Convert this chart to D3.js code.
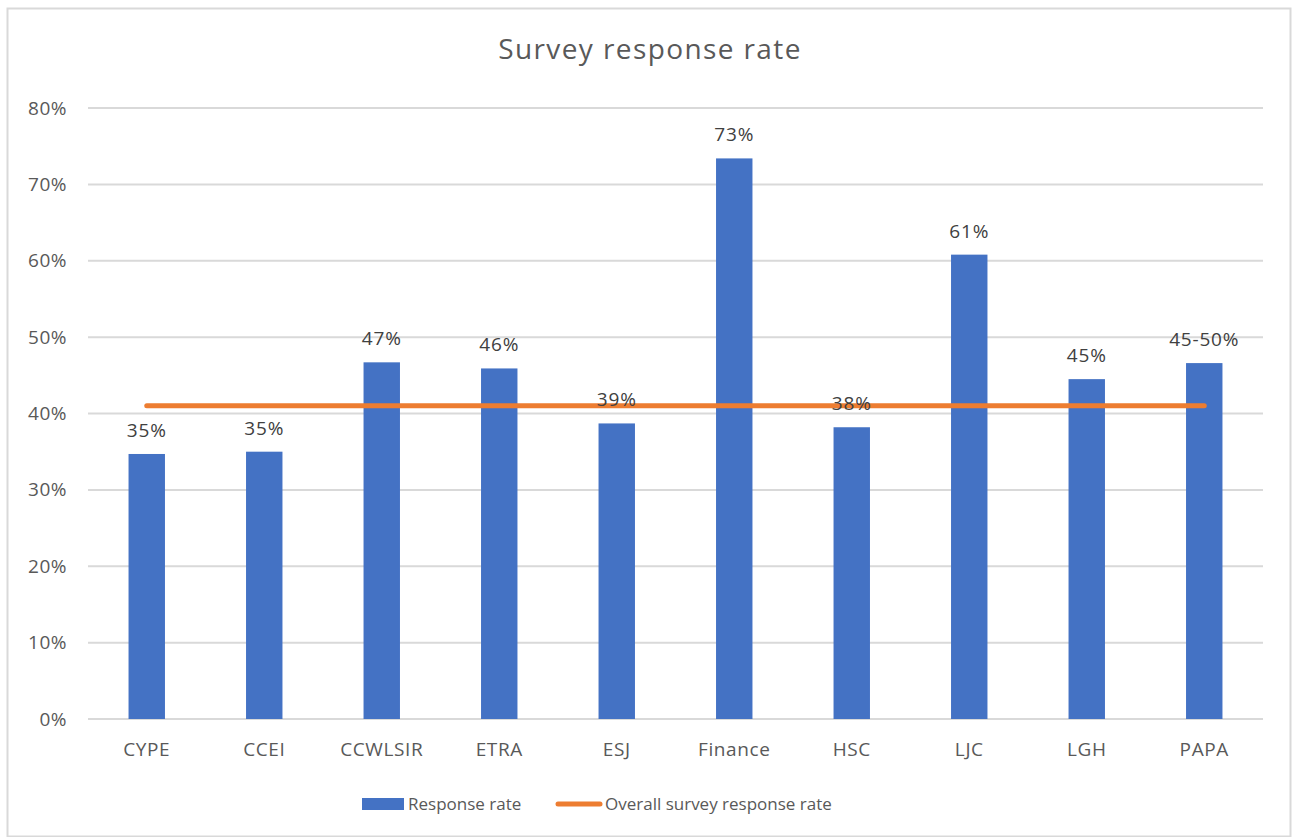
<!DOCTYPE html>
<html>
<head>
<meta charset="utf-8">
<script src="https://cdn.jsdelivr.net/npm/d3@7"></script>
<style>
  html, body { margin: 0; padding: 0; background: #fff; }
  svg { display: block; }
  text { font-family: "Open Sans", "Noto Sans", sans-serif; fill: #595959; }
</style>
</head>
<body>
<svg id="chart" width="1292" height="837"></svg>
<script>
const categories = ["CYPE", "CCEI", "CCWLSIR", "ETRA", "ESJ", "Finance", "HSC", "LJC", "LGH", "PAPA"];
const responseRate = [34.7, 35.0, 46.7, 45.9, 38.7, 73.4, 38.2, 60.8, 44.5, 46.6];
const valueLabels = ["35%", "35%", "47%", "46%", "39%", "73%", "38%", "61%", "45%", "45-50%"];
const overallRate = [41, 41, 41, 41, 41, 41, 41, 41, 41, 41];
const yTicks = [0, 10, 20, 30, 40, 50, 60, 70, 80];
const seriesNames = ["Response rate", "Overall survey response rate"];
const title = "Survey response rate";

const svg = d3.select("#chart");
const W = 1292, H = 837;
const plot = { left: 88, right: 1263, top: 108, bottom: 719 };

// chart border
svg.append("rect")
  .attr("x", 7.5).attr("y", 8.5).attr("width", W - 9).attr("height", H - 9)
  .attr("fill", "#fff").attr("stroke", "#d9d9d9").attr("stroke-width", 2);

const x = d3.scaleBand().domain(categories).range([plot.left, plot.right]).padding(0);
const y = d3.scaleLinear().domain([0, 80]).range([plot.bottom, plot.top]);
const barW = x.bandwidth() * 0.31;

// title
svg.append("text")
  .attr("x", 650).attr("y", 59)
  .attr("text-anchor", "middle")
  .style("font-size", "28px")
  .style("letter-spacing", "1.4px")
  .text(title);

// y axis labels
const yAxis = d3.axisLeft(y).tickValues(yTicks).tickFormat(d => d + "%").tickSize(0).tickPadding(21);
const gy = svg.append("g").attr("transform", `translate(${plot.left},0)`).call(yAxis);
gy.select(".domain").remove();
gy.selectAll("text").style("font-size", "19px").style("letter-spacing", "0.5px")
  .style("fill", "#595959").attr("font-family", null);

// gridlines
svg.append("g").selectAll("line").data(yTicks).join("line")
  .attr("x1", plot.left).attr("x2", plot.right)
  .attr("y1", d => y(d)).attr("y2", d => y(d))
  .attr("stroke", "#d9d9d9").attr("stroke-width", 2);

// x axis labels
const xAxis = d3.axisBottom(x).tickSize(0).tickPadding(24);
const gx = svg.append("g").attr("transform", `translate(0,${plot.bottom})`).call(xAxis);
gx.select(".domain").remove();
gx.selectAll("text").style("font-size", "19px").style("letter-spacing", "0.6px")
  .style("fill", "#595959").attr("font-family", null);

// bars
svg.append("g").selectAll("rect").data(categories).join("rect")
  .attr("x", (d) => x(d) + x.bandwidth() / 2 - barW / 2)
  .attr("width", barW)
  .attr("y", (d, i) => y(responseRate[i]))
  .attr("height", (d, i) => y(0) - y(responseRate[i]))
  .attr("fill", "#4472c4");

// overall line
const line = d3.line()
  .x((d, i) => x(categories[i]) + x.bandwidth() / 2)
  .y(d => y(d));
svg.append("path").datum(overallRate)
  .attr("d", line)
  .attr("fill", "none")
  .attr("stroke", "#ed7d31")
  .attr("stroke-width", 5)
  .attr("stroke-linecap", "round");

// value labels
svg.append("g").selectAll("text").data(categories).join("text")
  .attr("x", d => x(d) + x.bandwidth() / 2)
  .attr("y", (d, i) => y(responseRate[i]) - 17)
  .attr("text-anchor", "middle")
  .style("font-size", "19px")
  .style("letter-spacing", "0.8px")
  .style("fill", "#404040")
  .text((d, i) => valueLabels[i]);

// legend
const lg = svg.append("g");
lg.append("rect").attr("x", 362).attr("y", 798).attr("width", 42).attr("height", 12).attr("fill", "#4472c4");
lg.append("text").attr("x", 408).attr("y", 810).style("font-size", "17px").text(seriesNames[0]);
lg.append("line").attr("x1", 558).attr("x2", 600).attr("y1", 804).attr("y2", 804)
  .attr("stroke", "#ed7d31").attr("stroke-width", 5).attr("stroke-linecap", "round");
lg.append("text").attr("x", 605).attr("y", 810).style("font-size", "17px").text(seriesNames[1]);
</script>
</body>
</html>
